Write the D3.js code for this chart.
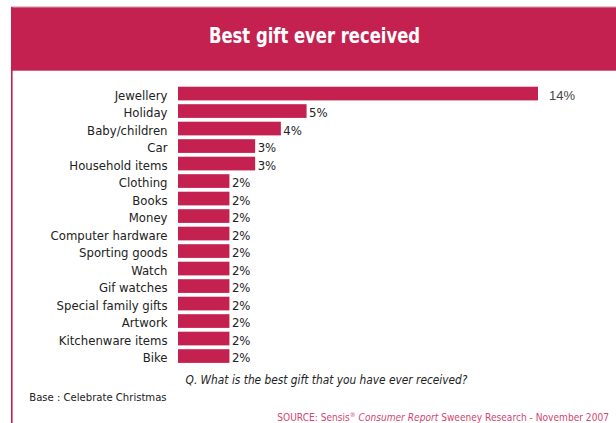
<!DOCTYPE html>
<html>
<head>
<meta charset="utf-8">
<script src="https://cdn.jsdelivr.net/npm/d3@7"></script>
<style>
  body { margin: 0; background: #fff; }
  svg { display: block; }
</style>
</head>
<body>
<svg id="chart" width="616" height="423"></svg>
<script>
// Survey answers: best gift ever received (% of respondents)
const categories = [
  "Jewellery", "Holiday", "Baby/children", "Car", "Household items",
  "Clothing", "Books", "Money", "Computer hardware", "Sporting goods",
  "Watch", "Gif watches", "Special family gifts", "Artwork",
  "Kitchenware items", "Bike"
];
const shares = [14, 5, 4, 3, 3, 2, 2, 2, 2, 2, 2, 2, 2, 2, 2, 2];
const valueLabels = ["14%", "5%", "4%", "3%", "3%", "2%", "2%", "2%", "2%", "2%", "2%", "2%", "2%", "2%", "2%", "2%"];

const titleText = "Best gift ever received";
const questionText = "Q. What is the best gift that you have ever received?";
const baseText = "Base : Celebrate Christmas";

const RED = "#c42150";
const COND = "'DejaVu Sans Condensed', 'DejaVu Sans', sans-serif";
const SANS = "'Liberation Sans', Arial, sans-serif";

const svg = d3.select("#chart");

// Frame: thin top rule, left red rule and title band
svg.append("rect").attr("x", 11).attr("y", 6).attr("width", 605).attr("height", 1.3).attr("fill", "#dccbd0");
svg.append("rect").attr("x", 11).attr("y", 7.3).attr("width", 605).attr("height", 63.4).attr("fill", RED);
svg.append("rect").attr("x", 11).attr("y", 7.3).attr("width", 1.6).attr("height", 416).attr("fill", RED);

// Title, set in a horizontally compressed bold face
svg.append("text")
  .attr("transform", "translate(314.5,42.7) scale(0.83,1)")
  .attr("text-anchor", "middle")
  .attr("font-family", COND).attr("font-weight", "bold").attr("font-size", 22)
  .attr("fill", "#fff")
  .text(titleText);

// Scales
const x = d3.scaleLinear().domain([0, 14]).range([178, 538]);
const y = d3.scaleBand().domain(categories).range([86.7, 362.9]).paddingInner(0.217).paddingOuter(0);

const rows = categories.map((c, i) => ({ cat: c, v: shares[i], label: valueLabels[i] }));
const maxV = d3.max(shares);

const g = svg.append("g");

g.selectAll("rect.bar").data(rows).join("rect")
  .attr("class", "bar")
  .attr("x", x(0))
  .attr("y", d => y(d.cat))
  .attr("width", d => x(d.v) - x(0))
  .attr("height", y.bandwidth())
  .attr("fill", RED);

// Category names, right aligned next to the bars
g.selectAll("text.cat").data(rows).join("text")
  .attr("class", "cat")
  .attr("x", 167.5)
  .attr("y", d => y(d.cat) + y.bandwidth() - 0.5)
  .attr("text-anchor", "end")
  .attr("font-family", COND).attr("font-size", 13)
  .attr("fill", "#222")
  .text(d => d.cat);

// Value labels at the bar ends
g.selectAll("text.val").data(rows).join("text")
  .attr("class", "val")
  .attr("x", d => x(d.v) + (d.v === maxV ? 11 : 2.5))
  .attr("y", d => y(d.cat) + y.bandwidth() - 0.5)
  .attr("font-family", d => d.v === maxV ? SANS : COND)
  .attr("font-size", 13)
  .attr("fill", d => d.v === maxV ? "#444" : "#222")
  .text(d => d.label);

// Question, base and source notes
svg.append("text")
  .attr("x", 326.5).attr("y", 384.3)
  .attr("text-anchor", "middle")
  .attr("font-family", COND).attr("font-style", "italic").attr("font-size", 11.8)
  .attr("fill", "#222")
  .text(questionText);

svg.append("text")
  .attr("x", 29.3).attr("y", 401)
  .attr("font-family", COND).attr("font-size", 11.2)
  .attr("fill", "#222")
  .text(baseText);

const src = svg.append("text")
  .attr("x", 277.3).attr("y", 421)
  .attr("font-family", COND).attr("font-size", 10.1)
  .attr("fill", "#d2466f");
src.append("tspan").text("SOURCE: Sensis");
src.append("tspan").attr("font-size", 6.5).attr("dy", -4).text("®");
src.append("tspan").attr("dy", 4).text(" ");
src.append("tspan").attr("font-style", "italic").text("Consumer Report");
src.append("tspan").text(" Sweeney Research - November 2007");
</script>
</body>
</html>
